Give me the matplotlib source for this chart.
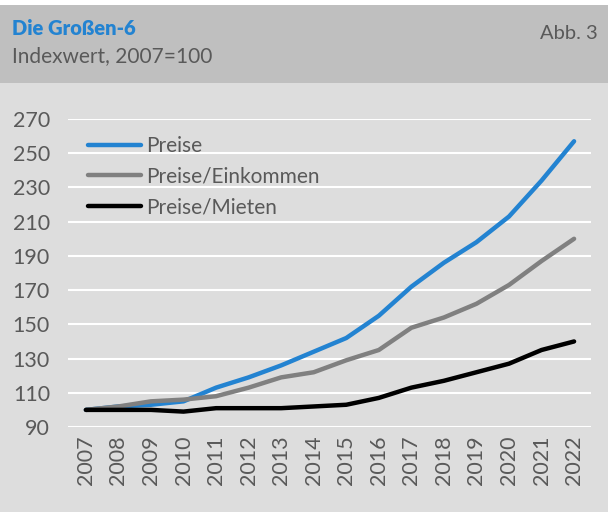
import matplotlib
matplotlib.use("Agg")
import matplotlib.pyplot as plt
from matplotlib.patches import Rectangle

years = list(range(2007, 2023))
preise = [100, 102, 103, 105, 113, 119, 126, 134, 142, 155, 172, 186, 198, 213, 234, 257]
preise_einkommen = [100, 102, 105, 106, 108, 113, 119, 122, 129, 135, 148, 154, 162, 173, 187, 200]
preise_mieten = [100, 100, 100, 99, 101, 101, 101, 102, 103, 107, 113, 117, 122, 127, 135, 140]
y_ticks = list(range(90, 271, 20))

plt.rcParams["font.family"] = ["Lato", "DejaVu Sans"]
text_col = "#595959"
bg = "#dddddd"

fig = plt.figure(figsize=(6.08, 5.12), dpi=100)
fig.patch.set_facecolor(bg)

# header band
H = 512
fig.patches.append(Rectangle((0, 1 - 5 / H), 1, 5 / H, transform=fig.transFigure,
                             facecolor="white", edgecolor="none"))
fig.patches.append(Rectangle((0, 1 - 83 / H), 1, 78 / H, transform=fig.transFigure,
                             facecolor="#bfbfbf", edgecolor="none"))
fig.text(12 / 608, 1 - 35 / H, "Die Großen-6", color="#2383d1", fontsize=14.5,
         fontweight="heavy", va="baseline")
fig.text(12 / 608, 1 - 62 / H, "Indexwert, 2007=100", color=text_col, fontsize=15,
         va="baseline")
fig.text(598 / 608, 1 - 39 / H, "Abb. 3", color=text_col, fontsize=14.5,
         ha="right", va="baseline")

ax = fig.add_axes([68 / 608, 1 - 427 / H, 523 / 608, 308 / H])
ax.set_facecolor(bg)
for s in ax.spines.values():
    s.set_visible(False)

ax.plot(years, preise, color="#2383d1", lw=3.2, label="Preise", solid_capstyle="round")
ax.plot(years, preise_einkommen, color="#808080", lw=3.2, label="Preise/Einkommen",
        solid_capstyle="round")
ax.plot(years, preise_mieten, color="black", lw=3.2, label="Preise/Mieten",
        solid_capstyle="round")

ax.set_ylim(90, 270)
ax.set_xlim(2006.45, 2022.52)
ax.set_yticks(y_ticks)
ax.set_xticks(years)
ax.set_xticklabels([str(y) for y in years], rotation=90)
ax.yaxis.grid(True, color="white", lw=1.5)
ax.set_axisbelow(True)
ax.tick_params(length=0, labelsize=15.5, labelcolor=text_col)
ax.tick_params(axis="y", pad=13)
ax.tick_params(axis="x", pad=6)

leg = ax.legend(loc="upper left", bbox_to_anchor=(0.002, 1.005), frameon=False,
                fontsize=15, labelcolor=text_col, handlelength=2.55,
                handletextpad=0.25, labelspacing=0.5)

fig.savefig("out.png", dpi=100, facecolor=fig.get_facecolor())
